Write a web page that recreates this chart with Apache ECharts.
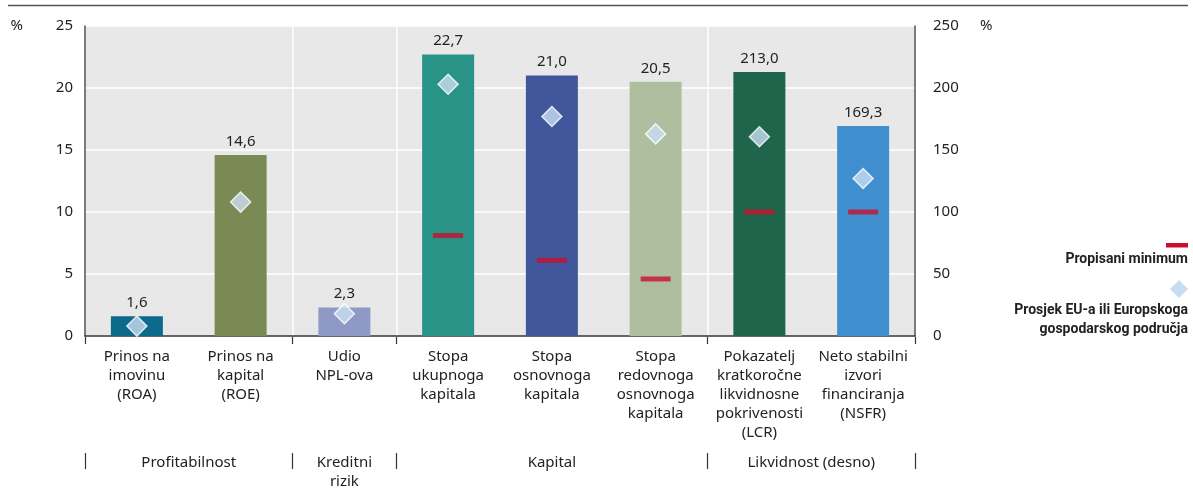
<!DOCTYPE html>
<html>
<head>
<meta charset="utf-8">
<script src="https://cdn.jsdelivr.net/npm/echarts@6/dist/echarts.min.js"></script>
<style>
  html, body { margin: 0; padding: 0; background: #fff; }
  #chart { width: 1193px; height: 499px; }
</style>
</head>
<body>
<div id="chart"></div>
<script>
const categories = [
  "Prinos na\nimovinu\n(ROA)",
  "Prinos na\nkapital\n(ROE)",
  "Udio\nNPL-ova",
  "Stopa\nukupnoga\nkapitala",
  "Stopa\nosnovnoga\nkapitala",
  "Stopa\nredovnoga\nosnovnoga\nkapitala",
  "Pokazatelj\nkratkoročne\nlikvidnosne\npokrivenosti\n(LCR)",
  "Neto stabilni\nizvori\nfinanciranja\n(NSFR)"
];
// left axis (%) values, '-' where the category belongs to the right axis
const valuesLeft = [1.6, 14.6, 2.3, 22.7, 21.0, 20.5, "-", "-"];
const valuesRight = ["-", "-", "-", "-", "-", "-", 213.0, 169.3];
const minimumLeft = ["-", "-", "-", 8.1, 6.1, 4.6, "-", "-"];
const minimumRight = ["-", "-", "-", "-", "-", "-", 100, 100];
const euAvgLeft = [0.8, 10.8, 1.8, 20.3, 17.7, 16.3, "-", "-"];
const euAvgRight = ["-", "-", "-", "-", "-", "-", 160.7, 127.0];
const barColors = ["#0d6a8b", "#7a8a55", "#8f99c6", "#2a9388", "#41579b", "#b0bea0", "#1e654b", "#3f8fce"];

// group row: half-category positions 0..16
const groupLabels = ["", "", "Profitabilnost", "", "", "Kreditni\nrizik", "", "", "", "Kapital", "", "", "", "", "Likvidnost (desno)", "", ""];
const boundaryIdx = [0, 2, 3, 6];

const FONT = "'Noto Sans', 'Open Sans', sans-serif";
const LEGEND_FONT = "'Roboto', sans-serif";
const fmt = (v) => v.toFixed(1).replace(".", ",");
const isBoundary = (i) => boundaryIdx.includes(i);

const chart = echarts.init(document.getElementById("chart"), null, { renderer: "canvas" });

const labelStyle = {
  show: true,
  position: "top",
  distance: 6,
  fontFamily: FONT,
  fontSize: 15,
  color: "#222",
  formatter: (p) => fmt(p.value)
};

const option = {
  animation: false,
  grid: [
    {
      left: 85,
      right: 278,
      top: 26,
      bottom: 163,
      show: true,
      backgroundColor: "#e8e8e8",
      borderWidth: 0
    },
    {
      // strip for the group row
      left: 85,
      right: 278,
      top: 453,
      height: 16
    },
    {
      // strip for the boundary ticks under the category axis
      left: 85,
      right: 278,
      top: 337,
      height: 7
    }
  ],
  xAxis: [
    {
      type: "category",
      data: categories,
      axisLine: { lineStyle: { color: "#333", width: 1.5 } },
      axisTick: { show: false },
      splitLine: {
        show: true,
        showMinLine: false,
        showMaxLine: false,
        interval: isBoundary,
        lineStyle: { color: "#fff", width: 1.5 }
      },
      axisLabel: {
        interval: 0,
        margin: 11,
        fontFamily: FONT,
        fontSize: 15,
        lineHeight: 19,
        color: "#222"
      }
    },
    {
      // group separators
      type: "category",
      gridIndex: 1,
      data: categories,
      position: "top",
      axisLine: { show: false },
      axisTick: { show: false },
      axisLabel: { show: false },
      splitLine: {
        show: true,
        interval: isBoundary,
        lineStyle: { color: "#333", width: 1.2 }
      }
    },
    {
      // group labels
      type: "category",
      gridIndex: 1,
      data: groupLabels,
      boundaryGap: false,
      position: "top",
      axisLine: { show: false },
      axisTick: { show: false },
      axisLabel: {
        interval: (i, v) => v !== "",
        inside: true,
        margin: 0,
        verticalAlign: "top",
        fontFamily: FONT,
        fontSize: 15,
        lineHeight: 19,
        color: "#222"
      },
      splitLine: { show: false }
    },
    {
      // boundary ticks below the category axis
      type: "category",
      gridIndex: 2,
      data: categories,
      position: "top",
      axisLine: { show: false },
      axisTick: { show: false },
      axisLabel: { show: false },
      splitLine: {
        show: true,
        interval: isBoundary,
        lineStyle: { color: "#333", width: 1.2 }
      }
    }
  ],
  yAxis: [
    {
      type: "value",
      min: 0,
      max: 25,
      interval: 5,
      name: "%",
      nameLocation: "end",
      nameGap: 0,
      nameTextStyle: {
        align: "right",
        verticalAlign: "middle",
        padding: [0, 62, 0, 0],
        fontFamily: FONT,
        fontSize: 15,
        color: "#222"
      },
      axisLine: { show: true, lineStyle: { color: "#555", width: 1.5 } },
      axisTick: { show: false },
      axisLabel: { margin: 12, fontFamily: FONT, fontSize: 15, color: "#222" },
      splitLine: { lineStyle: { color: "#fff", width: 1.5 } }
    },
    {
      type: "value",
      min: 0,
      max: 250,
      interval: 50,
      position: "right",
      name: "%",
      nameLocation: "end",
      nameGap: 0,
      nameTextStyle: {
        align: "left",
        verticalAlign: "middle",
        padding: [0, 0, 0, 65],
        fontFamily: FONT,
        fontSize: 15,
        color: "#222"
      },
      axisLine: { show: true, lineStyle: { color: "#555", width: 1.5 } },
      axisTick: { show: false },
      axisLabel: { margin: 18, fontFamily: FONT, fontSize: 15, color: "#222" },
      splitLine: { show: false }
    },
    { type: "value", gridIndex: 1, show: false },
    { type: "value", gridIndex: 2, show: false }
  ],
  series: [
    {
      type: "bar",
      yAxisIndex: 0,
      barWidth: 52,
      barGap: "-100%",
      data: valuesLeft.map((v, i) => ({ value: v, itemStyle: { color: barColors[i] } })),
      label: labelStyle
    },
    {
      type: "bar",
      yAxisIndex: 1,
      barWidth: 52,
      barGap: "-100%",
      data: valuesRight.map((v, i) => ({ value: v, itemStyle: { color: barColors[i] } })),
      label: labelStyle
    },
    {
      type: "scatter",
      yAxisIndex: 0,
      symbol: "rect",
      symbolSize: [30, 5],
      itemStyle: { color: "#c8102e" },
      data: minimumLeft,
      z: 3
    },
    {
      type: "scatter",
      yAxisIndex: 1,
      symbol: "rect",
      symbolSize: [30, 5],
      itemStyle: { color: "#c8102e" },
      data: minimumRight,
      z: 3
    },
    {
      type: "scatter",
      yAxisIndex: 0,
      symbol: "diamond",
      symbolSize: 20,
      itemStyle: { color: "#c9ddf2", borderColor: "#fff", borderWidth: 1.5 },
      data: euAvgLeft,
      z: 4
    },
    {
      type: "scatter",
      yAxisIndex: 1,
      symbol: "diamond",
      symbolSize: 20,
      itemStyle: { color: "#c9ddf2", borderColor: "#fff", borderWidth: 1.5 },
      data: euAvgRight,
      z: 4
    },
    // empty series so the helper axes get a scale
    { type: "scatter", xAxisIndex: 1, yAxisIndex: 2, data: [], silent: true },
    { type: "scatter", xAxisIndex: 2, yAxisIndex: 2, data: [], silent: true },
    { type: "scatter", xAxisIndex: 3, yAxisIndex: 3, data: [], silent: true }
  ],
  graphic: [
    {
      type: "line",
      shape: { x1: 8, y1: 5.5, x2: 1188, y2: 5.5 },
      style: { stroke: "#555", lineWidth: 1.5 }
    },
    {
      type: "rect",
      shape: { x: 1166, y: 243, width: 22, height: 4.5 },
      style: { fill: "#c8102e" }
    },
    {
      type: "text",
      style: {
        x: 1188, y: 259,
        text: "Propisani minimum",
        fontFamily: LEGEND_FONT, fontWeight: "bold", fontSize: 14,
        fill: "#222", align: "right", verticalAlign: "middle"
      }
    },
    {
      type: "polygon",
      shape: { points: [[1179, 280], [1188, 289], [1179, 298], [1170, 289]] },
      style: { fill: "#c9ddf2" }
    },
    {
      type: "text",
      style: {
        x: 1188, y: 310,
        text: "Prosjek EU-a ili Europskoga",
        fontFamily: LEGEND_FONT, fontWeight: "bold", fontSize: 14,
        fill: "#222", align: "right", verticalAlign: "middle"
      }
    },
    {
      type: "text",
      style: {
        x: 1188, y: 329,
        text: "gospodarskog područja",
        fontFamily: LEGEND_FONT, fontWeight: "bold", fontSize: 14,
        fill: "#222", align: "right", verticalAlign: "middle"
      }
    }
  ]
};

chart.setOption(option);
</script>
</body>
</html>
